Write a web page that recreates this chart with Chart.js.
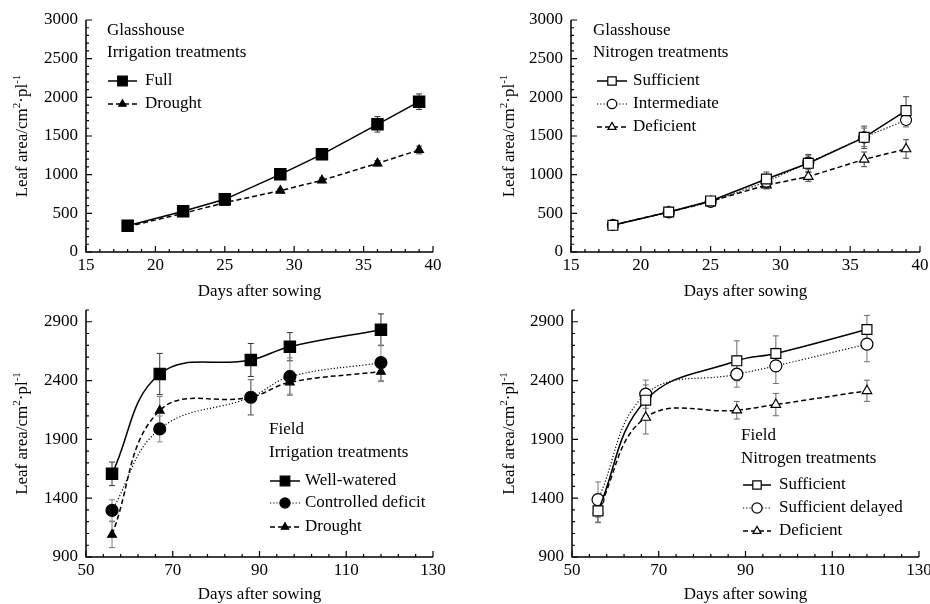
<!DOCTYPE html>
<html>
<head>
<meta charset="utf-8">
<script src="https://cdn.jsdelivr.net/npm/chart.js@4/dist/chart.umd.min.js"></script>
<style>
  body { margin: 0; background: #fff; }
  #wrap { position: relative; width: 930px; height: 604px; overflow: hidden; }
  canvas { position: absolute; }
</style>
</head>
<body>
<div id="wrap">
  <canvas id="c1" width="465" height="300" style="left:0;top:0"></canvas>
  <canvas id="c2" width="465" height="300" style="left:465px;top:0"></canvas>
  <canvas id="c3" width="465" height="304" style="left:0;top:300px"></canvas>
  <canvas id="c4" width="465" height="304" style="left:465px;top:300px"></canvas>
</div>
<script>
// glasshouse days and values
const glassDays = [18, 22, 25, 29, 32, 36, 39];
const glassFull = [340, 526, 681, 1004, 1263, 1651, 1944];
const glassFullErr = [20, 25, 30, 35, 40, 100, 100];
const glassDrought = [328, 500, 638, 793, 927, 1147, 1319];
const glassDroughtErr = [15, 20, 25, 25, 30, 35, 50];

const glassSuff = [345, 517, 660, 944, 1147, 1483, 1828];
const glassSuffErr = [30, 35, 40, 90, 115, 145, 180];
const glassInter = [349, 513, 647, 909, 1155, 1483, 1707];
const glassInterErr = [25, 30, 35, 70, 90, 120, 90];
const glassDef = [349, 517, 655, 866, 974, 1198, 1332];
const glassDefErr = [25, 30, 35, 50, 60, 95, 120];

// field days and values
const fieldDays = [56, 67, 88, 97, 118];
const fieldWW = [1607, 2456, 2575, 2688, 2832];
const fieldWWErr = [100, 175, 140, 120, 135];
const fieldCD = [1296, 1989, 2258, 2433, 2552];
const fieldCDErr = [90, 110, 150, 160, 150];
const fieldDr = [1090, 2145, 2258, 2385, 2476];
const fieldDrErr = [110, 120, 150, 100, 85];

const fieldSuff = [1292, 2233, 2568, 2630, 2834];
const fieldSuffErr = [100, 130, 170, 150, 120];
const fieldDel = [1388, 2284, 2454, 2525, 2710];
const fieldDelErr = [150, 120, 110, 150, 150];
const fieldDef = [1297, 2086, 2148, 2196, 2313];
const fieldDefErr = [100, 140, 75, 95, 90];

const glassYTicks = [0, 500, 1000, 1500, 2000, 2500, 3000];
const fieldYTicks = [900, 1400, 1900, 2400, 2900];

const FONT = '"Liberation Serif", "Times New Roman", serif';

function pts(xs, ys) { return xs.map((x, i) => ({ x: x, y: ys[i] })); }

function series(label, xs, ys, style, radius, fill, dash, width, tension) {
  return {
    label: label,
    data: pts(xs, ys),
    borderColor: '#000',
    borderWidth: width,
    borderDash: dash,
    pointStyle: style,
    pointRadius: radius,
    pointBackgroundColor: fill,
    pointBorderColor: '#000',
    pointBorderWidth: 1.2,
    tension: tension,
    fill: false
  };
}

function drawRichYTitle(ctx, cx, cy) {
  const parts = [['Leaf area/cm', 0], ['2', 1], ['\u00b7pl', 0], ['-1', 1]];
  ctx.save();
  ctx.translate(cx, cy);
  ctx.rotate(-Math.PI / 2);
  ctx.textAlign = 'left';
  ctx.textBaseline = 'alphabetic';
  ctx.fillStyle = '#000';
  let total = 0;
  parts.forEach(p => {
    ctx.font = (p[1] ? '11px ' : '17px ') + FONT;
    total += ctx.measureText(p[0]).width;
  });
  let x = -total / 2;
  parts.forEach(p => {
    ctx.font = (p[1] ? '11px ' : '17px ') + FONT;
    ctx.fillText(p[0], x, p[1] ? -1 : 6);
    x += ctx.measureText(p[0]).width;
  });
  ctx.restore();
}

const decor = {
  id: 'decor',
  beforeDatasetsDraw(chart, args, o) {
    const ctx = chart.ctx, xs = chart.scales.x, ys = chart.scales.y;
    ctx.save();
    ctx.setLineDash([]);
    ctx.lineWidth = 1;
    chart.data.datasets.forEach((ds, i) => {
      const errs = o.errors[i];
      ctx.strokeStyle = o.errColors[i];
      ds.data.forEach((p, j) => {
        const x = xs.getPixelForValue(p.x);
        const y1 = ys.getPixelForValue(p.y - errs[j]);
        const y2 = ys.getPixelForValue(p.y + errs[j]);
        ctx.beginPath();
        ctx.moveTo(x, y1); ctx.lineTo(x, y2);
        ctx.moveTo(x - 3, y1); ctx.lineTo(x + 3, y1);
        ctx.moveTo(x - 3, y2); ctx.lineTo(x + 3, y2);
        ctx.stroke();
      });
    });
    ctx.restore();
  },
  afterDraw(chart, args, o) {
    const ctx = chart.ctx, a = chart.chartArea, xs = chart.scales.x, ys = chart.scales.y;
    ctx.save();
    ctx.strokeStyle = '#000';
    ctx.lineWidth = 1.5;
    ctx.setLineDash([]);
    // axis lines
    ctx.beginPath();
    ctx.moveTo(a.left, a.top); ctx.lineTo(a.left, a.bottom); ctx.lineTo(a.right, a.bottom);
    ctx.stroke();
    // inward ticks
    ctx.lineWidth = 1.2;
    ctx.beginPath();
    for (let v = xs.min; v <= xs.max + 1e-6; v += o.xMinor) {
      const x = xs.getPixelForValue(v);
      const major = Math.abs((v - xs.min) % o.xMajor) < 1e-6;
      ctx.moveTo(x, a.bottom); ctx.lineTo(x, a.bottom - (major ? 6 : 3));
    }
    for (let v = ys.min; v <= ys.max + 1e-6; v += o.yMinor) {
      const y = ys.getPixelForValue(v);
      const major = Math.abs((v - ys.min) % o.yMajor) < 1e-6;
      ctx.moveTo(a.left, y); ctx.lineTo(a.left + (major ? 6 : 3), y);
    }
    ctx.stroke();
    // axis titles
    ctx.fillStyle = '#000';
    ctx.font = '17px ' + FONT;
    ctx.textAlign = 'center';
    ctx.textBaseline = 'middle';
    ctx.fillText('Days after sowing', (a.left + a.right) / 2, o.xTitleY);
    drawRichYTitle(ctx, o.yTitleX, (a.top + a.bottom) / 2);
    // header + legend
    ctx.textAlign = 'left';
    ctx.textBaseline = 'middle';
    ctx.font = '17px ' + FONT;
    o.header.forEach((t, i) => ctx.fillText(t, o.lx, o.headY[i]));
    chart.data.datasets.forEach((ds, i) => {
      const y = o.rowY[i];
      ctx.strokeStyle = '#000';
      ctx.lineWidth = ds.borderWidth;
      ctx.setLineDash(ds.borderDash);
      ctx.beginPath();
      ctx.moveTo(o.lineX[0], y); ctx.lineTo(o.lineX[1], y);
      ctx.stroke();
      ctx.setLineDash([]);
      ctx.fillStyle = ds.pointBackgroundColor;
      ctx.lineWidth = ds.pointBorderWidth;
      Chart.helpers.drawPoint(ctx, { pointStyle: ds.pointStyle, radius: ds.pointRadius * 0.85, borderWidth: ds.pointBorderWidth, rotation: 0 }, (o.lineX[0] + o.lineX[1]) / 2, y);
      ctx.fillStyle = '#000';
      ctx.fillText(ds.label, o.textX, y);
    });
    ctx.restore();
  }
};

function makeChart(id, datasets, xr, yr, yTicks, box, deco) {
  new Chart(document.getElementById(id), {
    type: 'line',
    data: { datasets: datasets },
    plugins: [decor],
    options: {
      responsive: false,
      animation: false,
      layout: { padding: { top: box.top, right: box.right, left: 0, bottom: 0 } },
      plugins: { legend: { display: false }, tooltip: { enabled: false }, decor: deco },
      scales: {
        x: {
          type: 'linear', min: xr[0], max: xr[1],
          grid: { display: false, drawTicks: false }, border: { display: false },
          ticks: { stepSize: xr[2], color: '#000', font: { family: FONT, size: 17 }, padding: 3, maxRotation: 0, autoSkip: false,
                   callback: v => String(v) },
          afterFit: s => { s.height = box.xh; s.paddingLeft = 0; s.paddingRight = 0; }
        },
        y: {
          type: 'linear', min: yr[0], max: yr[1],
          grid: { display: false, drawTicks: false }, border: { display: false },
          ticks: { color: '#000', font: { family: FONT, size: 17 }, padding: 8, callback: v => String(v) },
          afterBuildTicks: s => { s.ticks = yTicks.map(v => ({ value: v })); },
          afterFit: s => { s.width = box.yw; s.paddingTop = 0; s.paddingBottom = 0; }
        }
      }
    }
  });
}

makeChart('c1', [
  series('Full', glassDays, glassFull, 'rect', 8, '#000', [], 1.5, 0),
  series('Drought', glassDays, glassDrought, 'triangle', 5, '#000', [5, 3], 1.5, 0)
], [15, 40, 5], [0, 3000], glassYTicks, { top: 20, right: 32, xh: 48, yw: 86 }, {
  errors: [glassFullErr, glassDroughtErr], errColors: ['#333', '#444'],
  xMinor: 1, xMajor: 5, yMinor: 100, yMajor: 500, xTitleY: 292, yTitleX: 21,
  header: ['Glasshouse', 'Irrigation treatments'], headY: [31, 53], lx: 107,
  rowY: [81, 104], lineX: [108, 137], textX: 145
});

makeChart('c2', [
  series('Sufficient', glassDays, glassSuff, 'rect', 7, '#fff', [], 1.5, 0),
  series('Intermediate', glassDays, glassInter, 'circle', 5.5, '#fff', [1.2, 2], 1.2, 0),
  series('Deficient', glassDays, glassDef, 'triangle', 5.5, '#fff', [5, 3], 1.5, 0)
], [15, 40, 5], [0, 3000], glassYTicks, { top: 20, right: 10, xh: 48, yw: 106 }, {
  errors: [glassSuffErr, glassInterErr, glassDefErr], errColors: ['#444', '#666', '#444'],
  xMinor: 1, xMajor: 5, yMinor: 100, yMajor: 500, xTitleY: 292, yTitleX: 43,
  header: ['Glasshouse', 'Nitrogen treatments'], headY: [31, 53], lx: 128,
  rowY: [81, 104, 127], lineX: [132, 162], textX: 168
});

makeChart('c3', [
  series('Well-watered', fieldDays, fieldWW, 'rect', 8, '#000', [], 1.5, 0.4),
  series('Controlled deficit', fieldDays, fieldCD, 'circle', 6, '#000', [1.2, 2], 1.2, 0.4),
  series('Drought', fieldDays, fieldDr, 'triangle', 5, '#000', [5, 3], 1.5, 0.4)
], [50, 130, 20], [900, 3000], fieldYTicks, { top: 10, right: 32, xh: 47, yw: 86 }, {
  errors: [fieldWWErr, fieldCDErr, fieldDrErr], errColors: ['#333', '#888', '#777'],
  xMinor: 4, xMajor: 20, yMinor: 100, yMajor: 500, xTitleY: 295, yTitleX: 21,
  header: ['Field', 'Irrigation treatments'], headY: [130, 153], lx: 269,
  rowY: [181, 203, 227], lineX: [270, 300], textX: 305
});

makeChart('c4', [
  series('Sufficient', fieldDays, fieldSuff, 'rect', 7, '#fff', [], 1.5, 0.4),
  series('Sufficient delayed', fieldDays, fieldDel, 'circle', 6, '#fff', [1.2, 2], 1.2, 0.4),
  series('Deficient', fieldDays, fieldDef, 'triangle', 5.5, '#fff', [5, 3], 1.5, 0.4)
], [50, 130, 20], [900, 3000], fieldYTicks, { top: 10, right: 11, xh: 47, yw: 107 }, {
  errors: [fieldSuffErr, fieldDelErr, fieldDefErr], errColors: ['#666', '#777', '#666'],
  xMinor: 4, xMajor: 20, yMinor: 100, yMajor: 500, xTitleY: 295, yTitleX: 43,
  header: ['Field', 'Nitrogen treatments'], headY: [136, 159], lx: 276,
  rowY: [185, 208, 231], lineX: [278, 306], textX: 314
});
</script>
</body>
</html>
